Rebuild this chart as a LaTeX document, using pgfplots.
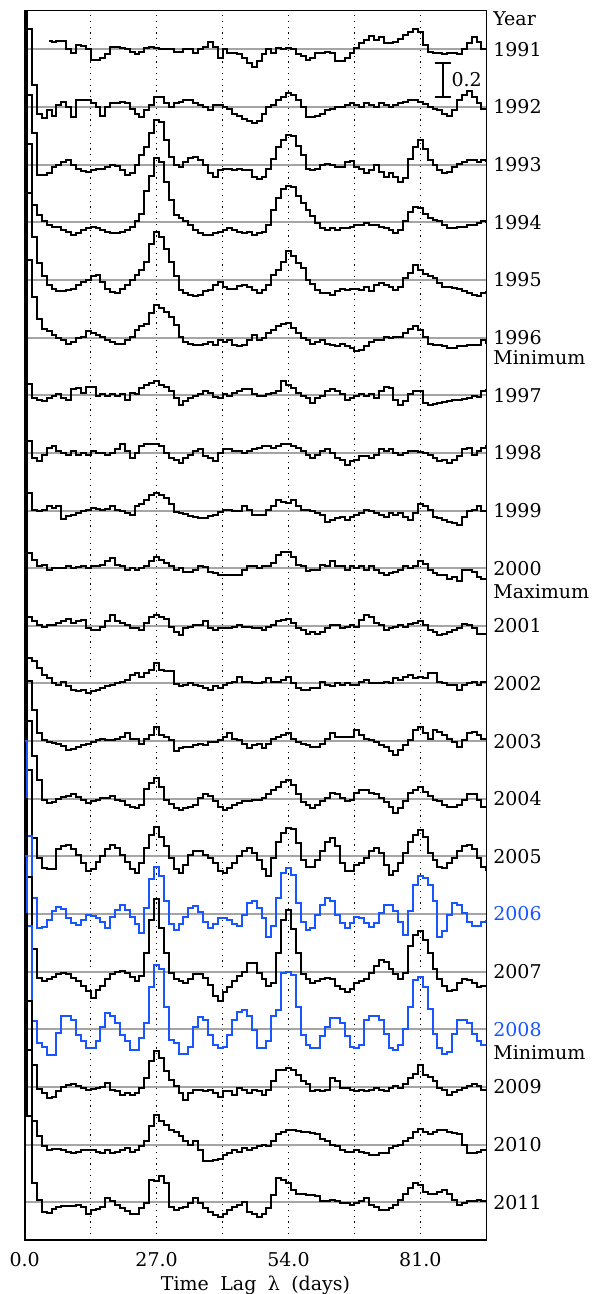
\documentclass[border=0pt]{standalone}
\usepackage{pgfplots}
\pgfplotsset{compat=1.18}
\usepackage{pgfplotstable}
\usepackage{fontspec}
\setmainfont{DejaVu Serif}
\definecolor{cblue}{RGB}{25,85,255}
\definecolor{cgray}{RGB}{165,165,165}

% one row per year: autocorrelation at lag 0,1,...,95 days
\pgfplotstableread[header=false]{
y1991 nan nan nan nan nan 0.05 0.04 0.05 0.05 0 -0.02 0.025 0.02 0 -0.06 -0.06 -0.05 -0.03 0.015 0.015 0.005 0 -0.015 -0.03 -0.015 0.005 0.015 0.005 0 0 0 -0.015 -0.015 0 0 -0.02 0 0.015 0.04 0.015 -0.05 0 -0.02 -0.02 -0.03 -0.05 -0.08 -0.10 -0.07 -0.03 0 -0.02 0.005 0 0.01 0 -0.03 -0.04 -0.06 -0.05 -0.02 -0.02 -0.015 -0.02 -0.07 -0.07 -0.05 -0.02 0.005 0.035 0.055 0.075 0.055 0.07 0.035 0.035 0.04 0.06 0.08 0.10 0.12 0.10 0.025 -0.015 -0.02 -0.02 -0.03 -0.02 -0.02 -0.03 0 0.035 0.07 0.045 0 0
y1992 1 0.45 0.125 -0.04 -0.065 -0.02 -0.05 0.01 0.03 0 -0.06 0.04 0.04 0.04 0.02 0 -0.05 0 0.02 0.02 0.03 0.02 -0.01 -0.04 -0.06 -0.02 0.01 0.06 0.06 0.02 0 0.02 0.03 0.04 0.04 0.02 0.01 0 -0.02 0.01 0.01 0 -0.01 -0.04 -0.05 -0.07 -0.08 -0.09 -0.08 -0.04 0 0.01 0.04 0.06 0.08 0.07 0.04 0 -0.06 -0.06 -0.05 -0.04 -0.02 -0.01 0 0 0.01 0.02 0.01 0 0.02 0.01 0 0.02 0.01 0 0.01 0.02 0.03 0.04 0.04 0.03 0.015 0 -0.01 -0.02 -0.04 -0.05 -0.02 0.04 0.07 0.09 0.06 0.02 -0.01 -0.01
y1993 1 0.4 0.18 -0.06 -0.06 -0.05 -0.015 0 0.015 0.025 0 -0.025 -0.035 -0.04 -0.03 -0.025 -0.025 -0.015 0 -0.01 -0.03 -0.06 -0.05 0 0.055 0.10 0.18 0.26 0.245 0.14 0.045 0 -0.015 0.015 0.04 0.045 0.025 0 -0.05 -0.07 -0.03 -0.025 -0.025 -0.03 -0.025 -0.03 -0.03 -0.07 -0.085 -0.07 -0.025 0.035 0.10 0.14 0.17 0.165 0.11 0.055 -0.025 -0.03 -0.025 0 0.005 0 -0.015 -0.015 0.015 0.02 -0.015 -0.025 -0.05 -0.03 0 -0.04 -0.07 -0.05 -0.07 -0.10 -0.08 0.035 0.10 0.14 0.09 0.025 0 -0.03 -0.05 -0.04 -0.015 0.005 0.015 0.025 0.025 0.015 0.025 0.02
y1994 1 0.45 0.10 0.04 0.005 -0.015 -0.025 -0.025 -0.045 -0.055 -0.075 -0.065 -0.045 -0.035 -0.025 -0.035 -0.045 -0.055 -0.06 -0.065 -0.055 -0.045 -0.025 0.005 0.05 0.18 0.27 0.37 0.35 0.235 0.13 0.04 0.025 0.005 -0.015 -0.045 -0.065 -0.075 -0.075 -0.065 -0.055 -0.045 -0.035 -0.045 -0.055 -0.065 -0.055 -0.075 -0.065 -0.055 -0.015 0.07 0.14 0.19 0.21 0.205 0.15 0.11 0.07 0.035 -0.005 -0.035 -0.045 -0.035 -0.045 -0.035 -0.035 -0.025 -0.015 -0.015 -0.005 -0.015 -0.015 -0.025 -0.035 -0.045 -0.065 -0.045 0.005 0.06 0.09 0.08 0.05 0.025 0.015 0.005 -0.015 -0.035 -0.035 -0.025 -0.025 -0.015 -0.015 -0.005 0.005 0
y1995 1 0.5 0.25 0.095 0.02 -0.03 -0.055 -0.065 -0.065 -0.06 -0.05 -0.03 -0.01 0 0.02 0.03 -0.01 -0.05 -0.07 -0.075 -0.05 -0.03 0 0.03 0.06 0.105 0.21 0.275 0.25 0.18 0.105 0.02 -0.06 -0.075 -0.085 -0.095 -0.085 -0.065 -0.06 -0.03 -0.01 -0.04 -0.05 -0.05 -0.035 -0.03 -0.04 -0.06 -0.075 -0.06 -0.03 0.03 0.06 0.105 0.165 0.14 0.095 0.07 0 -0.025 -0.06 -0.075 -0.075 -0.085 -0.065 -0.05 -0.06 -0.05 -0.05 -0.06 -0.04 -0.065 -0.03 -0.02 -0.03 -0.04 -0.06 -0.04 0.01 0.04 0.085 0.06 0.035 0.02 0.01 -0.02 -0.04 -0.04 -0.045 -0.055 -0.065 -0.075 -0.085 -0.095 -0.075 -0.07
y1996 1 0.45 0.235 0.11 0.05 0.035 0.015 -0.005 -0.015 -0.04 -0.025 -0.005 0.005 0.035 0.025 0.015 0.005 -0.015 -0.025 -0.035 -0.035 -0.015 0.005 0.045 0.065 0.08 0.14 0.19 0.17 0.15 0.12 0.075 0.005 -0.025 -0.035 -0.045 -0.045 -0.035 -0.025 -0.045 -0.015 -0.025 -0.015 -0.045 -0.05 -0.045 -0.015 0.015 -0.015 -0.005 0.025 0.045 0.065 0.08 0.085 0.055 0.025 -0.005 -0.015 -0.035 -0.025 -0.015 -0.035 -0.045 -0.05 -0.035 -0.05 -0.06 -0.08 -0.07 -0.05 -0.025 -0.015 -0.015 0.005 -0.005 0.005 0.005 0.025 0.05 0.065 0.045 0.005 -0.035 -0.045 -0.045 -0.05 -0.06 -0.06 -0.05 -0.05 -0.045 -0.045 -0.045 -0.015 -0.03
y1997 1 0.065 -0.015 -0.025 -0.035 -0.015 -0.005 0.005 -0.015 -0.03 0.035 0.04 0.015 0.045 0.05 -0.005 0.005 -0.005 0.005 -0.005 0.005 -0.025 0.015 0.005 0.04 0.06 0.07 0.085 0.06 0.045 0.025 -0.015 -0.055 -0.035 -0.015 -0.005 0.005 0.025 0.015 -0.01 -0.015 0.005 -0.005 0.015 0.025 0.035 0.035 0.005 -0.005 -0.005 0.005 0.015 0.025 0.08 0.06 0.04 0.015 -0.005 -0.015 -0.045 -0.015 -0.005 0.025 0.035 0.025 0.005 -0.025 -0.015 -0.005 0.005 -0.005 0.005 -0.015 0.025 0.05 0.04 -0.025 -0.055 -0.035 0.005 0.025 0.025 -0.045 -0.055 -0.05 -0.045 -0.04 -0.035 -0.03 -0.025 -0.02 -0.015 -0.005 -0.01 0.025 0.03
y1998 1 0.07 -0.03 -0.05 -0.01 0.03 0.04 0.01 0 -0.01 0.01 -0.01 0 -0.01 0.01 0 0 -0.01 0 0.02 0.05 0.01 -0.03 0 0.04 0.05 0.05 0.05 0.04 0 -0.03 -0.04 -0.06 -0.03 -0.01 0.01 0.02 -0.02 -0.03 -0.05 0 0.02 0.02 0.01 0.01 0 0.01 0.02 0.03 0.04 0.04 0.03 0.04 0.05 0.05 0.04 0.03 0.01 -0.01 -0.03 -0.01 0.01 0.02 0 -0.03 -0.04 -0.07 -0.05 -0.04 -0.02 -0.02 -0.03 -0.01 0.02 0.01 0.02 0 -0.01 0 0.01 0.01 0.005 0 -0.01 -0.03 -0.05 -0.04 -0.06 -0.04 -0.02 0.02 0.03 -0.01 0.01 0.03 0.04
y1999 1 0.10 0.005 -0.005 0.005 0.025 0.015 0.025 -0.05 -0.03 -0.025 -0.015 -0.005 0.005 0.015 0.01 0.005 0.01 0.025 0.005 -0.005 -0.015 -0.025 0.025 0.04 0.06 0.09 0.10 0.09 0.07 0.04 -0.01 -0.015 -0.02 -0.03 -0.04 -0.045 -0.045 -0.03 -0.025 -0.01 0.005 0.005 -0.005 -0.005 0.025 0.005 -0.025 -0.025 -0.025 0.005 0.025 0.06 0.05 0.045 0.06 0.025 0.005 0.005 -0.005 -0.015 -0.025 -0.065 -0.055 -0.045 -0.035 -0.055 -0.035 -0.025 -0.015 0.005 -0.005 -0.015 -0.025 -0.035 -0.015 -0.025 -0.015 -0.035 -0.055 -0.015 0.04 0.025 0.005 -0.035 -0.045 -0.055 -0.065 -0.075 -0.085 -0.035 -0.005 0.005 0.025 -0.005 0
y2000 1 0.085 0.05 0.015 0.02 -0.01 0 0 0 0.01 0 0.005 0.01 0 0.01 0.01 0.02 0.04 0.06 0.02 0.015 -0.01 0 -0.01 0 0.01 0.04 0.065 0.05 0.03 0.01 -0.01 0 -0.02 -0.02 -0.01 0.01 0.005 -0.02 -0.03 -0.04 -0.04 -0.04 -0.04 -0.04 -0.01 0.01 0.01 0 0.01 0.01 0.03 0.075 0.095 0.095 0.065 0.02 0.01 -0.015 -0.01 -0.01 0.02 0.01 0.04 0.015 0.01 -0.01 0.01 0 0.01 -0.01 0.01 -0.01 -0.03 -0.04 -0.03 -0.02 -0.01 0.01 0 0.01 0.04 0.025 -0.01 -0.03 -0.04 -0.04 -0.06 -0.05 -0.075 -0.01 -0.01 -0.02 -0.05 -0.065 -0.065
y2001 1 0.05 0.025 0.005 -0.005 0.005 0.005 0.015 0.025 0.04 0.015 0.025 0.035 -0.015 -0.025 -0.025 -0.005 0.025 0.06 0.025 0.015 0.005 -0.015 -0.015 -0.025 0.015 0.05 0.065 0.05 0.04 -0.005 -0.035 -0.055 -0.015 -0.005 0.005 0.005 0.025 -0.015 -0.025 -0.015 -0.015 -0.01 -0.005 0.005 -0.005 -0.005 -0.015 -0.015 -0.025 -0.005 0.005 0.025 0.035 0.04 0.015 -0.015 -0.025 -0.045 -0.035 -0.045 -0.035 -0.015 0.005 0.005 -0.015 -0.005 0.005 -0.005 0.035 0.06 0.05 0.015 0.005 -0.025 -0.015 -0.005 0.005 -0.005 0.01 0.015 0.025 0.005 -0.025 -0.035 -0.055 -0.045 -0.035 -0.025 -0.015 0.01 0.005 -0.015 -0.045 -0.05 -0.05
y2002 1 0.15 0.13 0.09 0.05 0.03 0 -0.01 0.01 -0.015 -0.035 -0.045 -0.035 -0.055 -0.045 -0.035 -0.025 -0.015 -0.01 0 0.01 0.02 0.05 0.06 0.04 0.06 0.08 0.12 0.08 0.07 0.07 -0.005 -0.015 -0.01 0 -0.01 -0.015 -0.025 -0.035 -0.015 -0.025 -0.01 0 0.01 0.04 0.01 0.01 0 0 0.01 0.03 0.01 0.01 0.02 0.04 0 -0.025 -0.035 -0.035 -0.025 -0.025 0.01 -0.01 -0.015 0 -0.01 0 -0.01 -0.01 0.01 0.02 0 0 0 0.01 0 0.03 0.02 0.04 0.05 0.03 0.04 0.03 0.06 0.06 0.01 0 -0.01 -0.01 -0.035 -0.01 0 0.01 -0.01 0.01 0.01
y2003 1 0.35 0.18 0.045 0.005 -0.005 -0.01 -0.015 -0.03 -0.05 -0.045 -0.035 -0.025 -0.015 -0.005 0.005 0.015 0.005 0.005 0.01 0.025 0.045 0.01 0.015 -0.015 0.015 0.035 0.08 0.035 0.025 0.005 -0.06 -0.04 -0.035 -0.035 -0.025 -0.015 -0.025 -0.005 -0.005 0.005 0.025 0.045 0.015 0.005 -0.015 -0.04 -0.025 -0.015 -0.04 -0.015 0.015 0.025 0.035 0.045 0.015 -0.005 -0.015 -0.025 -0.035 -0.035 -0.015 0.015 0.045 0.025 0.025 0.025 0.025 0.065 0.035 0.015 0.005 -0.005 -0.025 -0.035 -0.06 -0.08 -0.05 -0.025 0.005 0.065 0.08 0.045 0.015 0.065 0.055 0.035 0.015 -0.005 -0.035 0.005 0.045 0.055 0.035 0.015 0.01
y2004 1 0.45 0.245 0.11 -0.005 -0.025 -0.02 0 0.01 0.015 0.025 0.01 -0.005 -0.025 -0.015 -0.005 0.005 0.005 0.015 -0.005 -0.015 -0.035 -0.045 -0.055 -0.035 0.055 0.09 0.12 0.07 -0.005 -0.03 -0.055 -0.065 -0.055 -0.045 -0.035 0.005 0.025 0.015 -0.015 -0.045 -0.065 -0.055 -0.035 -0.025 -0.015 -0.015 -0.005 -0.005 0.005 0.025 0.05 0.07 0.095 0.11 0.08 0.025 -0.02 -0.035 -0.055 -0.035 -0.015 0.005 0.035 0.025 0.005 -0.015 -0.005 0.035 0.05 0.05 0.035 0.025 0.005 -0.02 -0.05 -0.085 -0.055 -0.015 0.035 0.05 0.07 0.04 0.015 -0.005 -0.015 -0.035 -0.045 -0.045 -0.035 -0.005 0.03 0.025 -0.005 -0.045 -0.05
y2005 1 0.5 0.105 -0.01 -0.065 -0.075 -0.07 0.04 0.06 0.065 0.04 0.01 -0.04 -0.085 -0.075 -0.03 0 0.04 0.065 0.05 0.01 -0.03 -0.075 -0.095 -0.04 0.05 0.125 0.17 0.115 0.06 -0.01 -0.075 -0.095 -0.05 0.01 0.03 0.03 0.01 -0.01 -0.04 -0.085 -0.095 -0.065 -0.04 0 0.03 0.05 0.02 -0.02 -0.075 -0.115 -0.01 0.085 0.135 0.165 0.16 0.075 -0.02 -0.06 -0.06 -0.02 0.03 0.085 0.105 0.06 -0.04 -0.085 -0.085 -0.05 -0.04 -0.01 0.03 0.05 0.02 -0.05 -0.105 -0.085 -0.04 0.02 0.085 0.125 0.155 0.115 0.02 -0.02 -0.06 -0.065 -0.04 -0.01 0.03 0.06 0.065 0.04 -0.01 -0.06 -0.08
y2006 1 0.45 0.09 -0.08 -0.075 -0.035 0.015 0.04 0.03 -0.025 -0.05 -0.065 -0.035 -0.005 -0.01 -0.025 -0.045 -0.08 -0.015 0.025 0.055 0.025 -0.015 -0.06 -0.11 0.035 0.2 0.27 0.22 0.075 -0.06 -0.09 -0.06 -0.015 0.035 0.045 0.01 -0.045 -0.08 -0.06 -0.025 -0.02 -0.035 -0.06 -0.07 -0.005 0.065 0.075 0.035 -0.025 -0.13 -0.07 0.09 0.235 0.265 0.225 0.065 -0.045 -0.09 -0.08 -0.005 0.055 0.09 0.075 -0.005 -0.05 -0.08 -0.05 -0.015 -0.025 -0.05 -0.075 -0.05 0.005 0.055 0.05 0.015 -0.045 -0.12 0.015 0.17 0.22 0.21 0.17 0.075 -0.13 -0.1 -0.005 0.065 0.055 0.005 -0.045 -0.07 -0.07 -0.045 -0.04
y2007 1 0.55 0.13 -0.035 -0.055 -0.045 -0.03 -0.015 -0.005 -0.015 -0.035 -0.055 -0.085 -0.11 -0.15 -0.105 -0.08 -0.045 -0.015 0 0.005 -0.01 -0.03 -0.055 -0.025 0.11 0.30 0.42 0.25 0.11 -0.005 -0.045 -0.055 -0.065 -0.045 -0.015 -0.015 -0.035 -0.075 -0.14 -0.17 -0.12 -0.09 -0.055 -0.025 0 0.05 0.05 -0.005 -0.045 -0.085 -0.065 0.11 0.30 0.355 0.245 0.11 -0.015 -0.045 -0.065 -0.055 -0.045 -0.035 -0.045 -0.08 -0.1 -0.12 -0.1 -0.065 -0.055 -0.045 -0.005 0.035 0.07 0.055 0.015 -0.015 -0.045 -0.005 0.15 0.215 0.235 0.185 0.11 0.015 -0.04 -0.085 -0.11 -0.105 -0.065 -0.045 -0.05 -0.065 -0.09 -0.08 -0.08
y2008 1 0.6 0.05 -0.08 -0.1 -0.15 -0.15 -0.02 0.08 0.08 0.055 -0.03 -0.07 -0.11 -0.11 -0.07 0.015 0.095 0.075 0.035 -0.03 -0.07 -0.12 -0.12 -0.05 0.035 0.245 0.37 0.35 0.13 -0.06 -0.08 -0.14 -0.14 -0.1 0.015 0.07 0.055 -0.03 -0.09 -0.11 -0.1 -0.03 0.055 0.1 0.11 0.08 -0.005 -0.11 -0.11 -0.07 0.075 0.11 0.325 0.33 0.315 0.13 -0.03 -0.09 -0.11 -0.11 -0.04 0.015 0.065 0.065 0.035 -0.04 -0.1 -0.11 -0.09 0.055 0.08 0.08 0.055 -0.025 -0.11 -0.12 -0.09 0 0.13 0.285 0.305 0.245 0.12 -0.025 -0.11 -0.14 -0.13 -0.025 0.055 0.055 0.035 -0.025 -0.07 -0.09 -0.09
y2009 1 0.5 0.13 -0.01 -0.035 -0.065 -0.055 -0.025 0 0.01 0.015 0.005 -0.005 -0.015 -0.01 -0.005 0 0.025 -0.015 -0.025 -0.045 -0.035 -0.045 -0.035 -0.005 0.05 0.15 0.21 0.17 0.09 0.04 0.005 -0.035 -0.075 -0.035 -0.015 -0.015 -0.025 -0.015 -0.035 -0.055 -0.025 -0.025 -0.045 -0.005 -0.015 -0.035 -0.015 -0.025 -0.045 -0.015 0.035 0.1 0.1 0.11 0.1 0.07 0.035 0.015 -0.025 -0.015 -0.025 -0.015 0.05 0.035 -0.005 -0.005 -0.015 -0.025 -0.015 -0.025 -0.015 -0.005 -0.015 -0.025 -0.005 0.005 -0.005 0.015 0.05 0.075 0.125 0.07 0.06 0.035 -0.005 -0.015 -0.045 -0.03 -0.015 -0.005 0.005 0.015 0.005 -0.02 -0.02
y2010 1 0.55 0.135 0.05 -0.01 -0.03 -0.025 -0.025 -0.03 -0.04 -0.05 -0.04 -0.03 -0.03 -0.03 -0.04 -0.05 -0.03 -0.05 -0.04 -0.03 -0.02 -0.04 -0.03 -0.01 0.02 0.105 0.17 0.135 0.115 0.085 0.075 0.05 0.02 0 0.02 -0.03 -0.095 -0.095 -0.09 -0.085 -0.06 -0.05 -0.03 -0.04 -0.02 -0.03 -0.02 -0.01 0 -0.01 0.02 0.06 0.075 0.085 0.085 0.08 0.075 0.075 0.07 0.06 0.03 0.02 0 -0.01 -0.03 -0.04 -0.04 -0.03 -0.04 -0.05 -0.06 -0.06 -0.05 -0.05 -0.02 -0.01 0 0.02 0.04 0.075 0.09 0.075 0.06 0.075 0.085 0.085 0.075 0.065 0.06 0 -0.05 -0.05 -0.04 -0.03 -0.03
y2011 1 0.5 0.11 0.015 -0.055 -0.06 -0.04 -0.03 -0.02 -0.02 -0.02 -0.015 -0.03 -0.065 -0.045 -0.04 -0.025 0.025 0.005 -0.015 -0.035 -0.05 -0.065 -0.065 -0.035 -0.005 0.13 0.125 0.15 0.11 -0.025 -0.045 -0.035 -0.03 -0.005 0.025 -0.005 -0.035 -0.055 -0.075 -0.085 -0.065 -0.045 -0.025 -0.015 0 -0.055 -0.065 -0.085 -0.065 -0.035 0.04 0.14 0.13 0.11 0.07 0.05 0.05 0.04 0.04 0.035 0.005 0.005 0.015 0.005 -0.005 -0.005 -0.015 -0.005 0.005 0.025 -0.015 -0.025 -0.045 -0.045 -0.035 -0.015 0.015 0.05 0.08 0.11 0.1 0.06 0.05 0.05 0.06 0.07 0.05 0.015 -0.015 -0.005 0.005 0.005 0.015 0.005 0.005
}\raw
\pgfplotstabletranspose[colnames from=0]\acf{\raw}

\pgfplotsset{
  every tick label/.append style={font=\fontsize{9.5}{11}\selectfont},
  every axis label/.append style={font=\fontsize{9.5}{11}\selectfont},
  acf/.style={const plot mark mid, no markers, line width=1pt, line join=miter},
}

\begin{document}
\begin{tikzpicture}
\useasboundingbox (-12.35pt,-27pt) rectangle (283.15pt,620pt);
\begin{axis}[
  at={(0pt,0pt)}, anchor=south west,
  scale only axis, width=230.8pt, height=614.65pt,
  xmin=0, xmax=94.5, ymin=-0.218, ymax=6.89,
  axis line style={line width=0.8pt},
  xtick={0,27,54,81}, xticklabels={0.0,27.0,54.0,81.0},
  minor xtick={13.5,40.5,67.5},
  xmajorgrids, xminorgrids,
  x grid style={black, line width=0.6pt, dash pattern=on 0.6pt off 2.3pt},
  ytick={0,0.333333,0.666667,1,1.333333,1.666667,2,2.333333,2.666667,3,3.333333,3.666667,4,4.333333,4.666667,5,5.333333,5.666667,6,6.333333,6.666667},
  yticklabels={2011,2010,2009,\textcolor{cblue}{2008},2007,\textcolor{cblue}{2006},2005,2004,2003,2002,2001,2000,1999,1998,1997,1996,1995,1994,1993,1992,1991},
  ymajorgrids, y grid style={cgray, line width=1pt},
  yticklabel pos=right,
  extra y ticks={6.842,4.884,3.528,0.867},
  extra y tick labels={Year,Minimum,Maximum,Minimum},
  extra y tick style={grid=none},
  major tick length=0pt, minor tick length=0pt,
  tick style={draw=none},
  yticklabel style={anchor=west, inner sep=0pt, xshift=3.3pt},
  xticklabel style={anchor=center, inner sep=0pt, yshift=-10pt},
  xlabel={Time\hspace{0.6em}Lag\hspace{0.6em}λ\hspace{0.6em}(days)},
  xlabel style={at={(axis description cs:0.5,0)}, anchor=center, inner sep=0pt, yshift=-22.5pt},
]
\addplot[acf, black] table[x expr=\coordindex, y expr=\thisrow{y1991}+6.666667] {\acf};
\addplot[acf, black] table[x expr=\coordindex, y expr=\thisrow{y1992}+6.333333] {\acf};
\addplot[acf, black] table[x expr=\coordindex, y expr=\thisrow{y1993}+6] {\acf};
\addplot[acf, black] table[x expr=\coordindex, y expr=\thisrow{y1994}+5.666667] {\acf};
\addplot[acf, black] table[x expr=\coordindex, y expr=\thisrow{y1995}+5.333333] {\acf};
\addplot[acf, black] table[x expr=\coordindex, y expr=\thisrow{y1996}+5] {\acf};
\addplot[acf, black] table[x expr=\coordindex, y expr=\thisrow{y1997}+4.666667] {\acf};
\addplot[acf, black] table[x expr=\coordindex, y expr=\thisrow{y1998}+4.333333] {\acf};
\addplot[acf, black] table[x expr=\coordindex, y expr=\thisrow{y1999}+4] {\acf};
\addplot[acf, black] table[x expr=\coordindex, y expr=\thisrow{y2000}+3.666667] {\acf};
\addplot[acf, black] table[x expr=\coordindex, y expr=\thisrow{y2001}+3.333333] {\acf};
\addplot[acf, black] table[x expr=\coordindex, y expr=\thisrow{y2002}+3] {\acf};
\addplot[acf, black] table[x expr=\coordindex, y expr=\thisrow{y2003}+2.666667] {\acf};
\addplot[acf, black] table[x expr=\coordindex, y expr=\thisrow{y2004}+2.333333] {\acf};
\addplot[acf, black] table[x expr=\coordindex, y expr=\thisrow{y2005}+2] {\acf};
\addplot[acf, cblue] table[x expr=\coordindex, y expr=\thisrow{y2006}+1.666667] {\acf};
\addplot[acf, black] table[x expr=\coordindex, y expr=\thisrow{y2007}+1.333333] {\acf};
\addplot[acf, cblue] table[x expr=\coordindex, y expr=\thisrow{y2008}+1] {\acf};
\addplot[acf, black] table[x expr=\coordindex, y expr=\thisrow{y2009}+0.666667] {\acf};
\addplot[acf, black] table[x expr=\coordindex, y expr=\thisrow{y2010}+0.333333] {\acf};
\addplot[acf, black] table[x expr=\coordindex, y expr=\thisrow{y2011}+0] {\acf};
% scale bar: 0.2 in autocorrelation
\draw[line width=1pt] (axis cs:85.66,6.389) -- (axis cs:85.66,6.589);
\draw[line width=1pt] ([xshift=-4pt]axis cs:85.66,6.589) -- ([xshift=4pt]axis cs:85.66,6.589);
\draw[line width=1pt] ([xshift=-4pt]axis cs:85.66,6.389) -- ([xshift=4pt]axis cs:85.66,6.389);
\node[anchor=west, inner sep=0pt, font=\fontsize{9.5}{11}\selectfont] at (axis cs:87.3,6.489) {0.2};
\end{axis}
\end{tikzpicture}
\end{document}
